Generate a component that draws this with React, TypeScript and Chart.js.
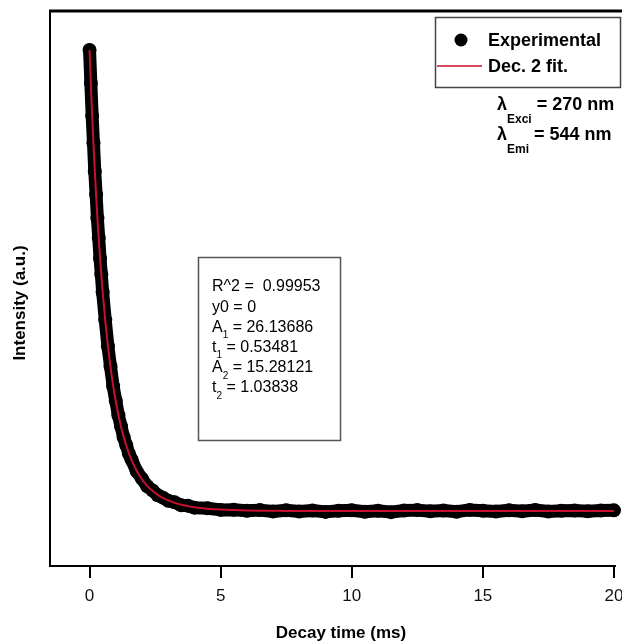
import { useEffect, useRef } from "react";
import { Chart, registerables } from "chart.js";

Chart.register(...registerables);

// ---- data ----
const decayTime = [
  0, 0.05, 0.1, 0.15, 0.2, 0.25, 0.3, 0.35, 0.4, 0.45, 0.5,
  0.6, 0.7, 0.8, 0.9, 1.0, 1.1, 1.2, 1.3, 1.4, 1.5, 1.6,
  1.8, 2.0, 2.2, 2.4, 2.6, 2.8, 3.0,
  3.25, 3.5, 3.75, 4.0,
  4.5, 5, 5.5, 6, 6.5, 7, 7.5, 8, 8.5, 9, 9.5, 10, 10.5, 11, 11.5, 12,
  12.5, 13, 13.5, 14, 14.5, 15, 15.5, 16, 16.5, 17, 17.5, 18, 18.5, 19, 19.5, 20,
];

const experimental = [
  41.42, 38.45, 35.5, 33.05, 30.5, 28.45, 26.3, 24.55, 22.7, 21.25, 19.65,
  17.15, 14.8, 12.98, 11.22, 9.9, 8.6, 7.62, 6.62, 5.92, 5.15, 4.63,
  3.56, 2.9, 2.22, 1.85, 1.42, 1.2, 0.92,
  0.78, 0.52, 0.48, 0.3,
  0.25, 0.1, 0.12, 0.02, 0.08, -0.05, 0.06, -0.04, 0.05, -0.08, 0.03, 0.07,
  -0.06, 0.02, -0.1, 0.04, 0.08, -0.03, 0.05, -0.06, 0.1, 0.02, -0.05, 0.06,
  -0.02, 0.09, -0.04, 0.03, 0.05, -0.02, 0.04, 0.06,
];

const fitCurve = [
  41.42, 38.37, 35.56, 32.97, 30.59, 28.39, 26.36, 24.49, 22.77, 21.17, 19.7,
  17.08, 14.85, 12.93, 11.28, 9.86, 8.64, 7.58, 6.67, 5.88, 5.19, 4.59,
  3.6, 2.85, 2.26, 1.81, 1.45, 1.17, 0.95,
  0.73, 0.56, 0.44, 0.34,
  0.21, 0.13, 0.08, 0.05, 0.03, 0.02, 0.01, 0.01,
  0, 0, 0, 0, 0, 0, 0, 0, 0, 0, 0, 0, 0, 0, 0, 0, 0, 0, 0, 0, 0, 0, 0, 0,
];

const xTickValues = [0, 5, 10, 15, 20];
const seriesLabels = ["Experimental", "Dec. 2 fit."];
const xTitle = "Decay time (ms)";
const yTitle = "Intensity (a.u.)";

const lambdaNames = ["λ", "λ"];
const lambdaSubs = ["Exci", "Emi"];
const lambdaValues = [" = 270 nm", " = 544 nm"];

const paramNames = ["R^2", "y0", "A", "t", "A", "t"];
const paramSubs = ["", "", "1", "1", "2", "2"];
const paramValues = [" =  0.99953", " = 0", " = 26.13686", " = 0.53481", " = 15.28121", " = 1.03838"];

const FONT = '"Liberation Sans", Arial, Helvetica, sans-serif';
const FIT_RED = "#c8102e";

function drawRich(
  ctx: CanvasRenderingContext2D,
  x: number,
  y: number,
  base: string,
  sub: string,
  rest: string,
  size: number,
  subSize: number,
  weight: string,
  subDy: number
) {
  ctx.textAlign = "left";
  ctx.textBaseline = "middle";
  ctx.font = `${weight} ${size}px ${FONT}`;
  ctx.fillText(base, x, y);
  let cx = x + ctx.measureText(base).width;
  if (sub) {
    ctx.font = `${weight} ${subSize}px ${FONT}`;
    ctx.fillText(sub, cx, y + subDy);
    cx += ctx.measureText(sub).width;
  }
  ctx.font = `${weight} ${size}px ${FONT}`;
  ctx.fillText(rest, cx, y);
}

const decorPlugin = {
  id: "decor",
  afterDraw(chart: any) {
    const ctx: CanvasRenderingContext2D = chart.ctx;
    const a = chart.chartArea;
    ctx.save();
    // top frame line
    ctx.strokeStyle = "#000";
    ctx.lineWidth = 3;
    ctx.beginPath();
    ctx.moveTo(a.left - 1, a.top);
    ctx.lineTo(chart.width, a.top);
    ctx.stroke();

    // axis titles
    ctx.fillStyle = "#000";
    ctx.font = `bold 17px ${FONT}`;
    ctx.textAlign = "center";
    ctx.textBaseline = "middle";
    ctx.fillText(xTitle, 341, 633);
    ctx.save();
    ctx.translate(20, 303);
    ctx.rotate(-Math.PI / 2);
    ctx.fillText(yTitle, 0, 0);
    ctx.restore();

    // legend box
    ctx.strokeStyle = "#444";
    ctx.lineWidth = 1.5;
    ctx.strokeRect(435.5, 17.5, 185, 70);
    ctx.fillStyle = "#000";
    ctx.beginPath();
    ctx.arc(461, 40, 6.5, 0, Math.PI * 2);
    ctx.fill();
    ctx.strokeStyle = FIT_RED;
    ctx.lineWidth = 1.5;
    ctx.beginPath();
    ctx.moveTo(437, 66);
    ctx.lineTo(482, 66);
    ctx.stroke();
    ctx.fillStyle = "#000";
    ctx.font = `bold 18px ${FONT}`;
    ctx.textAlign = "left";
    ctx.textBaseline = "middle";
    ctx.fillText(seriesLabels[0], 488, 41);
    ctx.fillText(seriesLabels[1], 488, 67);

    // wavelengths
    for (let i = 0; i < lambdaNames.length; i++) {
      drawRich(ctx, 497, 105 + i * 30, lambdaNames[i], lambdaSubs[i], lambdaValues[i], 18, 12, "bold", 15);
    }

    // fit parameter box
    ctx.strokeStyle = "#555";
    ctx.lineWidth = 1.5;
    ctx.strokeRect(198.5, 257.5, 142, 183);
    ctx.fillStyle = "#000";
    for (let i = 0; i < paramNames.length; i++) {
      drawRich(ctx, 212, 287 + i * 20.2, paramNames[i], paramSubs[i], paramValues[i], 16, 10, "normal", 8);
    }
    ctx.restore();
  },
};

export default function App() {
  const canvasRef = useRef<HTMLCanvasElement | null>(null);

  useEffect(() => {
    const canvas = canvasRef.current;
    if (!canvas) return;
    const expData = decayTime.map((t, i) => ({ x: t, y: experimental[i] }));
    const fitData = decayTime.map((t, i) => ({ x: t, y: fitCurve[i] }));
    const chart = new Chart(canvas, {
      type: "scatter",
      data: {
        datasets: [
          {
            label: seriesLabels[0],
            data: expData,
            showLine: true,
            borderColor: "#000",
            backgroundColor: "#000",
            borderWidth: 13,
            borderJoinStyle: "round",
            borderCapStyle: "round",
            pointRadius: 7,
            pointBorderWidth: 0,
            pointBackgroundColor: "#000",
            clip: false,
            order: 2,
          },
          {
            label: seriesLabels[1],
            data: fitData,
            showLine: true,
            borderColor: FIT_RED,
            borderWidth: 2,
            pointRadius: 0,
            cubicInterpolationMode: "monotone",
            clip: false,
            order: 1,
          },
        ],
      } as any,
      options: {
        responsive: false,
        animation: false,
        layout: { padding: { left: 50, top: 11, right: 0, bottom: 0 } },
        plugins: {
          legend: { display: false },
          tooltip: { enabled: false },
        },
        scales: {
          x: {
            type: "linear",
            min: -1.508,
            max: 20.04,
            afterBuildTicks: (s: any) => {
              s.ticks = xTickValues.map((v) => ({ value: v }));
            },
            afterFit: (s: any) => {
              s.paddingLeft = 0;
              s.paddingRight = 0;
              s.height = 77;
            },
            grid: {
              display: true,
              drawOnChartArea: false,
              drawTicks: true,
              tickLength: 12,
              lineWidth: 2,
              color: "#000",
            },
            border: { display: true, color: "#000", width: 2 },
            ticks: {
              color: "#111",
              font: { size: 17, family: FONT },
              padding: 8,
              maxRotation: 0,
              autoSkip: false,
            },
            title: { display: false, text: xTitle },
          },
          y: {
            type: "linear",
            min: -4.94,
            max: 44.92,
            ticks: { display: false },
            grid: { display: false, drawTicks: false },
            border: { display: true, color: "#000", width: 2 },
            title: { display: false, text: yTitle },
          },
        },
      } as any,
      plugins: [decorPlugin],
    });
    return () => chart.destroy();
  }, []);

  return (
    <div style={{ position: "fixed", left: 0, top: 0, width: 622, height: 643, background: "#fff" }}>
      <canvas ref={canvasRef} width={622} height={643} style={{ display: "block" }} />
    </div>
  );
}
